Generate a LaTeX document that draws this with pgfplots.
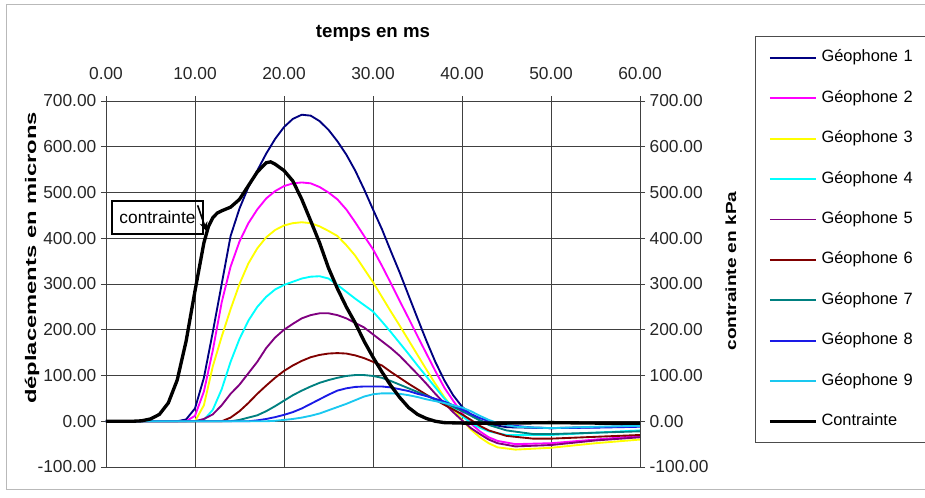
\documentclass[border=0pt]{standalone}
\usepackage{fontspec}
\setmainfont{Liberation Sans}
\usepackage{pgfplots}
\pgfplotsset{compat=1.18}
\usetikzlibrary{arrows.meta}
\definecolor{g1}{HTML}{000080}
\definecolor{g2}{HTML}{FF00FF}
\definecolor{g3}{HTML}{FFFF00}
\definecolor{g4}{HTML}{00FFFF}
\definecolor{g5}{HTML}{800080}
\definecolor{g6}{HTML}{800000}
\definecolor{g7}{HTML}{008080}
\definecolor{g8}{HTML}{1A1AE6}
\definecolor{g9}{HTML}{1AC8F0}
\pgfplotsset{
  common/.style={
    at={(79.5pt,-350.25pt)}, anchor=south west, scale only axis,
    width=400.5pt, height=274.5pt,
    xmin=0, xmax=60, ymin=-100, ymax=700,
    ytick={-100,0,...,700},
    tick align=outside, major tick length=3.75pt,
    axis line style={black!75, line width=0.6pt},
    tick style={black!75, line width=0.6pt},
    /pgf/number format/fixed, /pgf/number format/fixed zerofill,
    /pgf/number format/precision=2, /pgf/number format/assume math mode=true,
    /pgf/number format/1000 sep={},
    ticklabel style={font=\fontsize{13}{15}\selectfont, text=black!85},
  }
}
\begin{document}
\begin{tikzpicture}
\useasboundingbox (0pt,0pt) rectangle (693.75pt,-372.75pt);
\draw[gray!55, line width=0.75pt] (5pt,-3pt) rectangle (720pt,-367pt);
\begin{axis}[common,
  xtick={0,10,...,60},
  xtick pos=right, xticklabel pos=right, ytick pos=left,
  grid=major, grid style={black!75, line width=0.6pt},
  xticklabel style={yshift=9pt},
  xlabel={temps en ms},
  xlabel style={font=\fontsize{14}{16}\selectfont\bfseries, at={(axis description cs:0.5,1)}, anchor=center, yshift=51pt},
  ylabel={\scalebox{1.55}[1]{déplacements en microns}},
  ylabel style={font=\fontsize{11.5}{14}\selectfont\bfseries, at={(axis description cs:-0.1386,0.571)}, anchor=center},
  legend style={at={(axis description cs:1.2154,1.1776)}, anchor=north west,
    draw=black!70, line width=0.75pt, inner xsep=9.5pt, inner ysep=10pt,
    row sep=18.3pt, column sep=3pt, font=\fontsize{12.3}{14}\selectfont,
    nodes={inner sep=0pt, text height=9pt, text depth=3pt, text width=75pt, align=left}},
  legend cell align=left,
  legend image code/.code={\draw[#1] (0pt,0pt) -- (34.5pt,0pt);},
]
\addplot[g1, line width=1.4pt] coordinates {(0,0)(8,0)(9,4)(10,28)(11,95)(12,195)(13,300)(14,405)(15,465)(16,512)(17,548)(18,585)(19,617)(20,643)(21,661)(22,670)(23,668)(24,656)(25,637)(26,612)(27,583)(28,548)(29,507)(30,463)(31,420)(32,372)(33,325)(34,275)(35,225)(36,176)(37,130)(38,90)(39,57)(40,32)(41,14)(42,2)(43,-6)(45,-13)(50,-15)(55,-13)(60,-10)};
\addlegendentry{Géophone 1}
\addplot[g2, line width=1.4pt] coordinates {(0,0)(9,0)(10,12)(11,65)(12,155)(13,260)(14,338)(15,393)(16,433)(17,463)(18,487)(19,503)(20,514)(21,520)(22,522)(23,520)(24,512)(25,500)(26,485)(27,463)(28,435)(29,405)(30,376)(31,340)(32,302)(33,263)(34,225)(35,186)(36,148)(37,110)(38,74)(39,45)(40,18)(41,-5)(42,-22)(43,-35)(44,-43)(46,-50)(50,-48)(55,-40)(60,-32)};
\addlegendentry{Géophone 2}
\addplot[g3, line width=1.4pt] coordinates {(0,0)(10,0)(11,35)(12,120)(13,185)(14,245)(15,300)(16,345)(17,378)(18,402)(19,418)(20,428)(21,433)(22,435)(23,433)(24,426)(25,416)(26,405)(27,385)(28,362)(29,333)(30,304)(31,272)(32,240)(33,209)(34,177)(35,145)(36,113)(37,82)(38,53)(39,28)(40,3)(41,-18)(42,-35)(43,-48)(44,-57)(46,-62)(50,-58)(55,-48)(60,-40)};
\addlegendentry{Géophone 3}
\addplot[g4, line width=1.4pt] coordinates {(0,0)(10,0)(11,3)(12,25)(13,70)(14,130)(15,180)(16,220)(17,250)(18,272)(19,288)(20,298)(21,305)(22,312)(23,316)(24,317)(25,312)(26,298)(27,283)(28,268)(29,254)(30,240)(31,218)(32,195)(33,171)(34,147)(35,122)(36,98)(37,74)(38,50)(39,30)(40,12)(41,-4)(42,-14)(43,-22)(45,-30)(50,-30)(55,-25)(60,-20)};
\addlegendentry{Géophone 4}
\addplot[g5, line width=1.4pt] coordinates {(0,0)(10,0)(11,5)(12,15)(13,35)(14,60)(15,80)(16,105)(17,130)(18,160)(19,183)(20,200)(21,213)(22,225)(23,232)(24,236)(25,236)(26,232)(27,225)(28,215)(29,205)(30,190)(31,175)(32,160)(33,143)(34,123)(35,103)(36,82)(37,60)(38,40)(39,20)(40,2)(41,-15)(42,-28)(43,-40)(44,-48)(46,-55)(50,-52)(55,-42)(60,-35)};
\addlegendentry{Géophone 5}
\addplot[g6, line width=1.4pt] coordinates {(0,0)(13,0)(14,8)(15,22)(16,40)(17,60)(18,78)(19,95)(20,110)(21,122)(22,132)(23,140)(24,145)(25,148)(26,149)(27,148)(28,144)(29,138)(30,130)(31,122)(32,108)(33,95)(34,82)(35,70)(36,58)(37,47)(38,36)(39,26)(40,15)(41,3)(42,-10)(43,-20)(45,-32)(48,-38)(50,-38)(55,-34)(60,-30)};
\addlegendentry{Géophone 6}
\addplot[g7, line width=1.4pt] coordinates {(0,0)(14,0)(15,3)(16,8)(17,13)(18,22)(19,33)(20,45)(21,57)(22,67)(23,76)(24,84)(25,90)(26,95)(27,99)(28,101)(29,101)(30,99)(31,95)(32,88)(33,80)(34,72)(35,64)(36,56)(37,48)(38,40)(39,32)(40,22)(41,12)(42,2)(43,-8)(45,-20)(48,-28)(50,-28)(55,-25)(60,-22)};
\addlegendentry{Géophone 7}
\addplot[g8, line width=1.4pt] coordinates {(0,0)(16,0)(17,2)(18,5)(19,9)(20,14)(21,20)(22,28)(23,38)(24,48)(25,58)(26,67)(27,72)(28,75)(29,76)(30,76)(31,76)(32,74)(33,70)(34,66)(35,60)(36,55)(37,49)(38,43)(39,35)(40,26)(41,16)(42,7)(43,0)(45,-8)(48,-14)(50,-15)(55,-14)(60,-12)};
\addlegendentry{Géophone 8}
\addplot[g9, line width=1.4pt] coordinates {(0,0)(18,0)(19,1)(20,3)(21,5)(22,8)(23,12)(24,17)(25,24)(26,31)(27,38)(28,46)(29,54)(30,59)(31,61)(32,61)(33,60)(34,57)(35,53)(36,48)(37,44)(38,40)(39,35)(40,30)(41,22)(42,12)(43,3)(44,-4)(46,-12)(50,-15)(55,-12)(60,-10)};
\addlegendentry{Géophone 9}
\addplot[black, line width=2.5pt] coordinates {(0,0)(3,0)(4,1)(5,5)(6,15)(7,40)(8,90)(9,175)(10,285)(11,390)(11.5,425)(12,445)(12.5,455)(13,460)(14,468)(15,485)(16,515)(17,545)(18,565)(18.5,567)(19,562)(20,548)(21,525)(22,485)(23,438)(24,390)(25,335)(26,290)(27,250)(28,215)(29,175)(30,140)(31,108)(32,78)(33,52)(34,30)(35,15)(36,6)(37,0)(38,-3)(40,-4)(45,-4)(50,-3)(55,-4)(60,-4)};
\addlegendentry{Contrainte}
\node[draw=black, line width=1.5pt, minimum width=68pt, minimum height=24.75pt, inner sep=0pt, font=\fontsize{13}{15}\selectfont] at (axis cs:5.79,445) {contrainte};
\draw[-{Stealth[length=7pt,width=6pt]}, line width=1.2pt] (axis cs:10.3,472) -- (axis cs:11.3,415);
\end{axis}
\begin{axis}[common,
  axis x line=none, axis y line*=right,
  ylabel={\scalebox{1.3}[1]{contrainte en kPa}},
  ylabel style={font=\fontsize{11}{13}\selectfont\bfseries, at={(axis description cs:1.1704,0.5355)}, anchor=center},
]
\end{axis}
\end{tikzpicture}
\end{document}
